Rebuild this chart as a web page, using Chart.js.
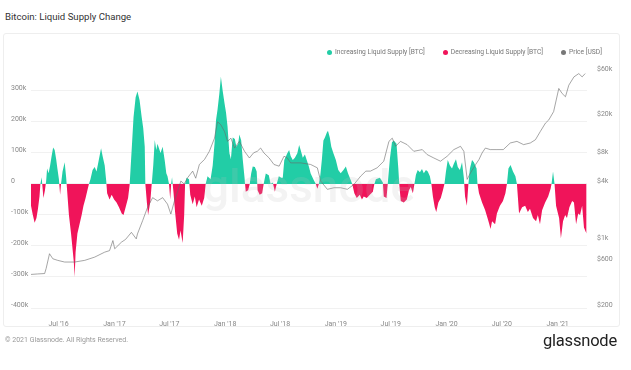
<!DOCTYPE html>
<html lang="en">
<head>
<meta charset="UTF-8">
<title>Bitcoin: Liquid Supply Change</title>
<script src="https://cdn.jsdelivr.net/npm/chart.js"></script>
<style>
  body { margin: 0; width: 631px; height: 370px; background: #fff; font-family: Roboto, "Noto Sans", sans-serif; position: relative; overflow: hidden; }
  .title { position: absolute; left: 5px; top: 11px; font-size: 9.6px; color: #333; }
  .card { position: absolute; left: 3px; top: 33px; width: 615px; height: 292px; border: 1px solid #eee; border-radius: 3px; }
  .legend { position: absolute; right: 29px; top: 48px; font-size: 6.7px; color: #777; display: flex; gap: 18px; }
  .legend span { display: flex; align-items: center; }
  .legend i { display: inline-block; width: 5px; height: 5px; border-radius: 50%; margin-right: 3px; }
  #wrap { position: absolute; left: 0; top: 0; width: 631px; height: 370px; }
  .footer { position: absolute; left: 5px; top: 336px; font-size: 7px; color: #999; }
  .logo { position: absolute; right: 14px; top: 331px; font-size: 16.5px; color: #222; letter-spacing: -0.2px; }
</style>
</head>
<body>
  <div class="title">Bitcoin: Liquid Supply Change</div>
  <div class="card"></div>
  <div id="wrap"><canvas id="chart"></canvas></div>
  <div class="legend">
    <span><i style="background:#22cda6"></i>Increasing Liquid Supply [BTC]</span>
    <span><i style="background:#f0145a"></i>Decreasing Liquid Supply [BTC]</span>
    <span><i style="background:#777"></i>Price [USD]</span>
  </div>
  <div class="footer">© 2021 Glassnode. All Rights Reserved.</div>
  <div class="logo">glassnode</div>

  <script>
    // day numbers count from 2016-04-01
    const startDate = '2016-04-01';

    // liquid supply change, thousands of BTC
    const supplyDay = [
      0,5,12,18,23,28,31,35,37,41,
      46,50,53,58,63,68,73,78,83,87,
      92,96,99,104,111,116,119,125,132,137,
      141,144,147,153,160,167,173,180,186,191,
      196,203,210,216,223,231,236,243,248,251,
      259,266,274,282,290,299,305,312,320,325,
      328,333,338,345,351,358,365,370,375,377,
      382,386,393,398,403,408,413,417,427,434,
      441,446,450,455,459,462,465,470,475,482,
      488,493,500,505,508,513,521,525,533,540,
      546,554,563,571,576,582,592,599,605,610,
      615,621,626,632,638,643,648,654,659,665,
      672,677,683,687,693,698,704,708,716,721,
      726,731,738,744,747,754,762,767,774,784,
      790,797,804,810,817,825,830,835,845,851,
      856,863,870,878,884,889,896,903,909,916,
      922,932,939,944,949,954,959,964,969,975,
      979,985,990,997,1005,1013,1021,1030,1038,1045,
      1053,1059,1066,1074,1084,1091,1097,1107,1117,1127,
      1132,1137,1150,1160,1163,1172,1176,1183,1190,1196,
      1205,1211,1214,1219,1229,1239,1246,1252,1259,1264,
      1269,1275,1282,1289,1295,1302,1308,1315,1320,1325,
      1331,1336,1343,1351,1358,1363,1368,1374,1381,1388,
      1394,1401,1407,1414,1421,1427,1431,1437,1442,1447,
      1454,1460,1469,1472,1477,1487,1497,1505,1510,1515,
      1520,1530,1536,1546,1556,1564,1569,1574,1581,1589,
      1597,1602,1609,1619,1629,1638,1645,1655,1665,1671,
      1678,1685,1695,1705,1713,1716,1721,1726,1731,1736,
      1741,1747,1754,1761,1767,1775,1784,1790,1797,1804,
      1810,1817,1823,1829,1832
    ];
    const supplyChange = [
      -70,-95,-125,-110,-80,-40,0,22,0,-45,
      -20,10,50,35,60,90,118,110,80,50,
      15,-35,0,40,70,20,-20,-100,-160,-210,
      -250,-300,-220,-160,-130,-100,-70,-45,-20,0,
      15,45,55,40,75,115,90,60,10,-30,
      -50,-35,-50,-60,-75,-95,-100,-75,-45,-5,
      45,130,215,280,298,270,215,180,120,0,
      -60,-100,-60,0,60,142,110,130,100,120,
      75,35,25,0,-50,0,22,-30,-90,-160,
      -180,-150,-190,-100,0,20,15,-35,-65,-40,
      -75,-50,-70,-45,0,25,15,60,130,206,
      240,292,346,300,260,230,185,100,80,150,
      145,120,130,160,140,80,20,-25,-20,0,
      35,56,55,40,-20,-35,-30,0,34,28,
      0,5,-25,0,25,20,20,77,99,110,
      90,77,85,99,126,110,85,95,77,56,
      34,13,0,-15,0,30,80,140,150,165,
      172,150,120,99,77,45,35,45,56,35,
      15,0,-30,-45,-35,-50,-40,-45,-35,-25,
      0,15,20,5,-40,-45,0,80,135,140,
      130,50,0,-55,-60,-50,-20,-10,-30,0,
      30,45,38,48,35,45,40,25,0,-40,
      -75,-90,-60,-45,-20,0,40,77,60,50,
      65,80,55,45,70,20,-40,-70,0,50,
      77,70,50,0,-30,-60,-84,-110,-127,-145,
      -120,-130,-95,-70,-55,-30,0,50,61,40,
      25,0,-95,-75,-70,-90,-80,-110,-120,-100,
      -130,-85,-60,-40,-15,0,40,0,-70,-90,
      -110,-175,-120,-100,-110,-75,-55,-60,-130,-95,
      -100,-70,-140,-155,-160
    ];

    // BTC price, USD
    const priceDay = [
      0,21,45,50,61,72,88,111,144,177,
      210,243,259,270,276,298,312,331,347,351,
      368,384,401,417,434,450,461,473,483,494,
      505,516,533,543,555,572,588,605,615,626,
      638,648,659,671,687,704,720,734,746,757,
      768,785,801,818,834,845,856,889,922,944,
      955,977,999,1021,1043,1065,1087,1104,1119,1141,
      1163,1180,1191,1202,1218,1240,1262,1290,1306,1328,
      1350,1372,1394,1416,1427,1438,1449,1466,1477,1487,
      1498,1514,1536,1557,1580,1602,1624,1646,1663,1679,
      1696,1707,1723,1740,1751,1762,1773,1790,1806,1817,
      1827
    ];
    const priceUsd = [
      450,455,460,521,742,657,632,607,607,632,
      684,771,800,1020,836,980,1050,1244,1062,1197,
      1648,2265,2876,2662,2876,2460,1935,2662,3300,4294,
      4000,4645,5460,4600,6410,7230,8810,12100,18000,16700,
      14200,11200,12100,9530,11200,8810,7500,8500,8810,9530,
      8460,7500,6410,6150,7820,7500,6660,6660,6410,5910,
      4294,3516,3654,3654,3516,3965,4840,5460,5460,5910,
      6935,11200,12100,9940,11200,10350,8810,9180,8140,7500,
      6935,7820,9180,9940,8810,4470,5240,6410,7230,8460,
      9530,9180,9180,9180,10770,11200,10350,10770,11650,14200,
      17400,18800,23000,40200,35600,32900,43500,53200,57600,53200,
      57600
    ];

    const xTickDates = ['2016-07-01','2017-01-01','2017-07-01','2018-01-01','2018-07-01','2019-01-01','2019-07-01','2020-01-01','2020-07-01','2021-01-01'];
    const xTickLabels = ["Jul '16","Jan '17","Jul '17","Jan '18","Jul '18","Jan '19","Jul '19","Jan '20","Jul '20","Jan '21"];
    const supplyTicks = [-400, -300, -200, -100, 0, 100, 200, 300];
    const supplyTickLabels = ['-400k','-300k','-200k','-100k','0','100k','200k','300k'];
    const priceTicks = [200, 600, 1000, 4000, 8000, 20000, 60000];
    const priceTickLabels = ['$200','$600','$1k','$4k','$8k','$20k','$60k'];

    const dayOf = d => (Date.parse(d) - Date.parse(startDate)) / 86400000;
    const xTickDays = xTickDates.map(dayOf);

    // faint "glassnode" mark across the middle of the plot
    const watermark = {
      id: 'watermark',
      afterDatasetsDraw(chart) {
        const { ctx, chartArea: a } = chart;
        ctx.save();
        ctx.font = '500 46px Roboto, sans-serif';
        ctx.fillStyle = 'rgba(190,190,190,0.18)';
        ctx.textAlign = 'center';
        ctx.textBaseline = 'middle';
        ctx.fillText('glassnode', (a.left + a.right) / 2, (a.top + a.bottom) / 2 + 4);
        ctx.restore();
      }
    };

    const tickFont = { family: 'Roboto, sans-serif', size: 7 };

    new Chart(document.getElementById('chart'), {
      type: 'line',
      data: {
        datasets: [{
          label: 'Price [USD]',
          data: priceDay.map((d, i) => ({ x: d, y: priceUsd[i] })),
          yAxisID: 'yPrice',
          borderColor: '#6a6a6a',
          borderWidth: 0.6,
          pointRadius: 0,
          fill: false,
          tension: 0
        }, {
          label: 'Liquid Supply Change [BTC]',
          data: supplyDay.map((d, i) => ({ x: d, y: supplyChange[i] })),
          yAxisID: 'y',
          borderWidth: 0,
          pointRadius: 0,
          tension: 0,
          fill: { target: 'origin', above: '#22cda6', below: '#f0145a' }
        }]
      },
      options: {
        responsive: true,
        maintainAspectRatio: false,
        animation: false,
        layout: { padding: { top: 64, left: 11, right: 11, bottom: 44 } },
        scales: {
          x: {
            type: 'linear',
            min: 0,
            max: 1833,
            grid: { display: false },
            border: { display: false },
            afterFit: s => { s.height = 18; },
            afterBuildTicks: s => { s.ticks = xTickDays.map(v => ({ value: v })); },
            ticks: {
              font: tickFont,
              color: '#888',
              padding: 4,
              maxRotation: 0,
              callback: (v, i) => xTickLabels[i]
            }
          },
          y: {
            position: 'left',
            min: -400,
            max: 387,
            afterFit: s => { s.width = 20; },
            afterBuildTicks: s => { s.ticks = supplyTicks.map(v => ({ value: v })); },
            grid: { color: '#f1f1f1', drawTicks: false },
            border: { display: false },
            ticks: {
              font: tickFont,
              color: '#888',
              crossAlign: 'far',
              labelOffset: -3,
              padding: 2,
              callback: (v, i) => supplyTickLabels[i]
            }
          },
          yPrice: {
            type: 'logarithmic',
            position: 'right',
            min: 200,
            max: 72600,
            afterFit: s => { s.width = 33; },
            afterBuildTicks: s => { s.ticks = priceTicks.map(v => ({ value: v })); },
            grid: { display: false },
            border: { display: false },
            ticks: {
              font: tickFont,
              color: '#888',
              labelOffset: -3,
              padding: 2,
              callback: (v, i) => priceTickLabels[i]
            }
          }
        },
        plugins: { legend: { display: false }, tooltip: { enabled: false } }
      },
      plugins: [watermark]
    });
  </script>
</body>
</html>
